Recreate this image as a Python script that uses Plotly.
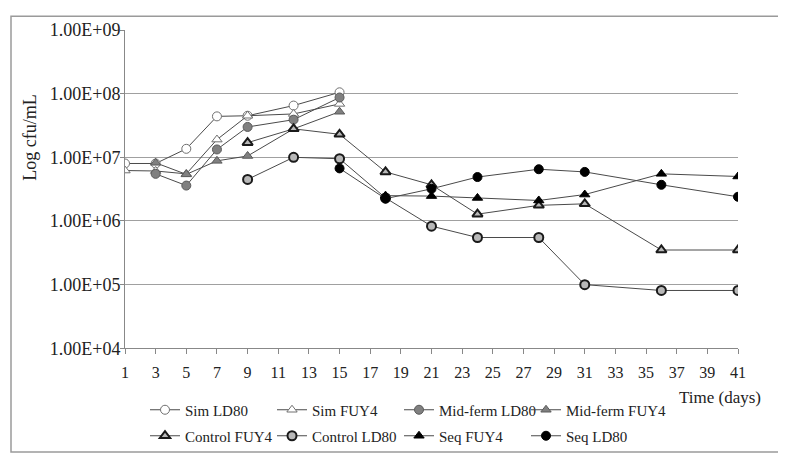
import plotly.graph_objects as go

# ---- data ----
days_sim = [1, 3, 5, 7, 9, 12, 15]
sim_ld80 = [8.0e6, 8.0e6, 1.36e7, 4.4e7, 4.5e7, 6.5e7, 1.05e8]
sim_fuy4 = [6.2e6, 6.1e6, 5.5e6, 1.9e7, 4.5e7, 4.8e7, 6.9e7]

days_mid = [3, 5, 7, 9, 12, 15]
mid_ld80 = [5.5e6, 3.6e6, 1.33e7, 3.0e7, 3.9e7, 8.7e7]
mid_fuy4 = [8.2e6, 5.4e6, 8.8e6, 1.05e7, 2.8e7, 5.2e7]

days_ctrl = [9, 12, 15, 18, 21, 24, 28, 31, 36, 41]
ctrl_fuy4 = [1.7e7, 2.8e7, 2.3e7, 5.9e6, 3.7e6, 1.28e6, 1.76e6, 1.86e6, 3.5e5, 3.5e5]
ctrl_ld80 = [4.5e6, 1.0e7, 9.5e6, 2.3e6, 8.3e5, 5.5e5, 5.5e5, 1.0e5, 8.1e4, 8.1e4]

days_seq_fuy4 = [18, 21, 24, 28, 31, 36, 41]
seq_fuy4 = [2.5e6, 2.46e6, 2.3e6, 2.1e6, 2.6e6, 5.5e6, 5.0e6]
days_seq_ld80 = [15, 18, 21, 24, 28, 31, 36, 41]
seq_ld80 = [6.7e6, 2.24e6, 3.2e6, 4.9e6, 6.5e6, 5.9e6, 3.7e6, 2.4e6]

x_ticks = list(range(1, 42, 2))
y_tickvals = [1e4, 1e5, 1e6, 1e7, 1e8, 1e9]
y_ticktext = ["1.00E+04", "1.00E+05", "1.00E+06", "1.00E+07", "1.00E+08", "1.00E+09"]

FONT = "Liberation Serif"
LINE = "#4a4a4a"
TXT = "#222"

# name, x, y, symbol, fill, edge colour, edge width, legend, legend entry width
series = [
    ("Sim LD80", days_sim, sim_ld80, "circle", "white", "#707070", 1, "legend", 82),
    ("Sim FUY4", days_sim, sim_fuy4, "triangle-up", "white", "#707070", 1, "legend", 82),
    ("Mid-ferm LD80", days_mid, mid_ld80, "circle", "#808080", "#5a5a5a", 1, "legend", 82),
    ("Mid-ferm FUY4", days_mid, mid_fuy4, "triangle-up", "#808080", "#5a5a5a", 1, "legend", 115),
    ("Control FUY4", days_ctrl, ctrl_fuy4, "triangle-up", "#b8b8b8", "#1a1a1a", 2, "legend2", 82),
    ("Control LD80", days_ctrl, ctrl_ld80, "circle", "#b8b8b8", "#1a1a1a", 2, "legend2", 82),
    ("Seq FUY4", days_seq_fuy4, seq_fuy4, "triangle-up", "#000000", "#000000", 1, "legend2", 82),
    ("Seq LD80", days_seq_ld80, seq_ld80, "circle", "#000000", "#000000", 1, "legend2", 100),
]

fig = go.Figure()
for name, xs, ys, sym, fill, edge, ew, lg, lw in series:
    fig.add_trace(go.Scatter(
        x=xs, y=ys, name=name, mode="lines+markers",
        line=dict(color=LINE, width=1),
        marker=dict(symbol=sym, size=9, color=fill, line=dict(color=edge, width=ew)),
        legend=lg, legendwidth=lw,
    ))

W, H = 786, 454
L, R, T, B = 117, 730, 17, 342
pw, ph = R - L, B - T


def px(xp):
    return (xp - L) / pw


def py(yp):
    return (B - yp) / ph


leg_common = dict(
    orientation="h", xref="container", yref="container",
    xanchor="left", yanchor="middle",
    font=dict(family=FONT, size=15, color=TXT),
    bgcolor="rgba(0,0,0,0)", borderwidth=0,
    entrywidthmode="pixels", entrywidth=82, itemwidth=30,
    tracegroupgap=0,
)

fig.update_layout(
    width=W, height=H,
    margin=dict(l=L, r=W - R, t=T, b=H - B),
    paper_bgcolor="white", plot_bgcolor="white",
    font=dict(family=FONT, size=18, color=TXT),
    showlegend=True,
    legend=dict(leg_common, x=137 / W, y=1 - 402 / H),
    legend2=dict(leg_common, x=137 / W, y=1 - 428 / H),
    xaxis=dict(
        range=[1, 41], tickmode="array", tickvals=x_ticks,
        ticks="outside", ticklen=5, tickcolor="#888",
        ticklabelstandoff=5,
        showline=True, linecolor="#888", linewidth=1,
        showgrid=False, zeroline=False,
        tickfont=dict(family=FONT, size=16, color=TXT),
    ),
    yaxis=dict(
        type="log", range=[4, 9], tickmode="array",
        tickvals=y_tickvals, ticktext=y_ticktext,
        ticks="outside", ticklen=4, tickcolor="#888",
        ticklabelstandoff=-4,
        showline=True, linecolor="#888", linewidth=1,
        showgrid=True, gridcolor="#a0a0a0", gridwidth=1,
        zeroline=False,
        tickfont=dict(family=FONT, size=18, color=TXT),
    ),
    annotations=[
        dict(text="Log cfu/mL", xref="paper", yref="paper",
             x=px(22), y=py(127), textangle=-90, showarrow=False,
             xanchor="center", yanchor="middle",
             font=dict(family=FONT, size=18, color=TXT)),
        dict(text="Time (days)", xref="paper", yref="paper",
             x=px(712), y=py(392), showarrow=False,
             xanchor="center", yanchor="middle",
             font=dict(family=FONT, size=17, color=TXT)),
    ],
    shapes=[
        dict(type="rect", xref="paper", yref="paper",
             x0=px(3), x1=px(778), y0=py(448), y1=py(3),
             line=dict(color="#9a9a9a", width=1.5), layer="below"),
    ],
)

fig.write_html("out.html", config={"displayModeBar": False})
